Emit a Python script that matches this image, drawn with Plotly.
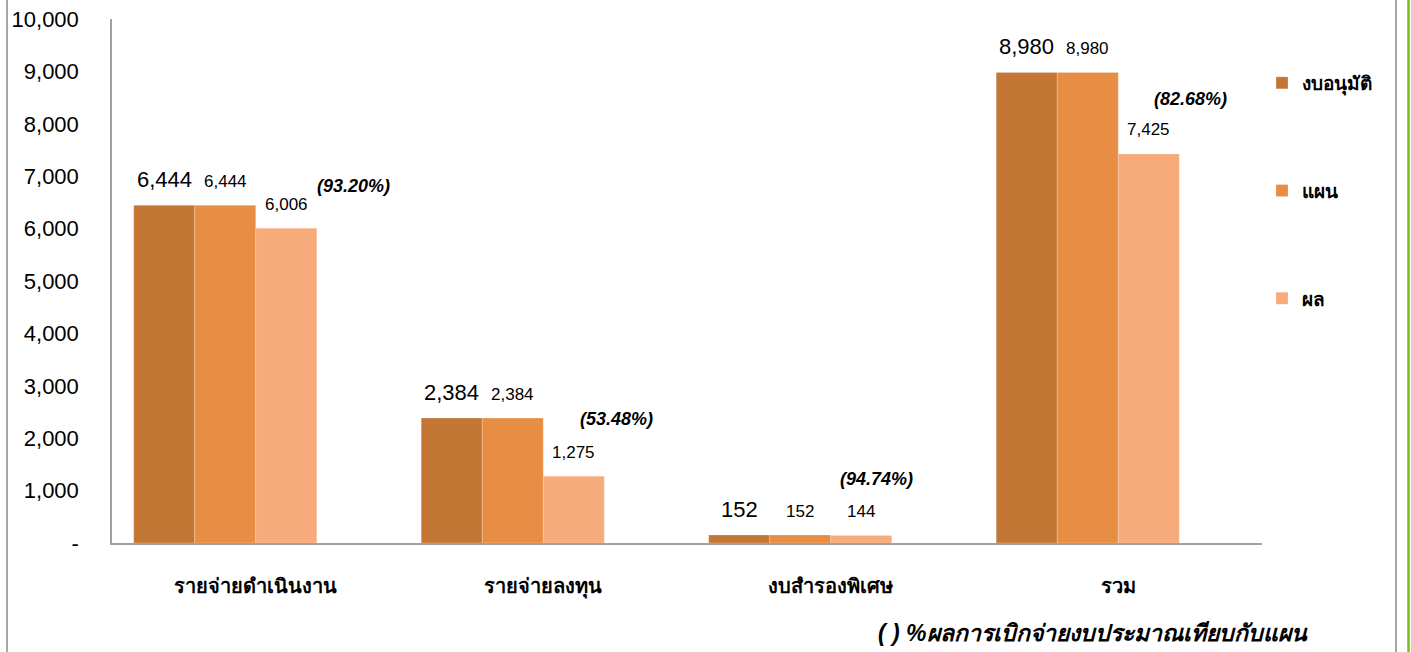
import plotly.graph_objects as go

categories = ["รายจ่ายดำเนินงาน", "รายจ่ายลงทุน", "งบสำรองพิเศษ", "รวม"]
series_names = ["งบอนุมัติ", "แผน", "ผล"]
approved = [6444, 2384, 152, 8980]
plan = [6444, 2384, 152, 8980]
actual = [6006, 1275, 144, 7425]
y_tickvals = [0, 1000, 2000, 3000, 4000, 5000, 6000, 7000, 8000, 9000, 10000]
y_ticktext = ["-", "1,000", "2,000", "3,000", "4,000", "5,000", "6,000", "7,000", "8,000", "9,000", "10,000"]
footnote = "( ) %ผลการเบิกจ่ายงบประมาณเทียบกับแผน"

# layout-only positions for the manually placed percentage labels
pct_label_y = [6810, 2360, 1230, 8470]
pct_label_xshift = [98, 73, 46, 72]

colors = ["#C47634", "#E88E44", "#F7AA7A"]
FONT = "Liberation Sans, Noto Sans, sans-serif"

fig = go.Figure()
all_series = [approved, plan, actual]
for i, (name, vals) in enumerate(zip(series_names, all_series)):
    fig.add_trace(go.Bar(
        x=categories, y=vals, name=f"<b>{name}</b>", legendgroup=name,
        marker=dict(color=colors[i], line=dict(width=0.6, color="rgba(255,255,255,0.35)")),
    ))
# hidden fourth series (percent) keeps the grouping as in the original
pct = [a / p * 100 for a, p in zip(actual, plan)]
fig.add_trace(go.Bar(x=categories, y=[None] * 4, showlegend=False, hoverinfo="skip"))

annotations = []
label_sizes = [22, 17, 17]
offsets = [-91.5, -30.5, 30.5]
for i, vals in enumerate(all_series):
    for c, v in zip(categories, vals):
        annotations.append(dict(
            x=c, y=v, xref="x", yref="y", text=f"{v:,}", showarrow=False,
            xshift=offsets[i], yshift=26 if i == 0 else 24, yanchor="middle",
            font=dict(family=FONT, size=label_sizes[i], color="#000000"),
        ))
for c, p, yv, xs in zip(categories, pct, pct_label_y, pct_label_xshift):
    annotations.append(dict(
        x=c, y=yv, xref="x", yref="y", text=f"<b><i>({p:.2f}%)</i></b>",
        showarrow=False, xshift=xs, yanchor="middle",
        font=dict(family=FONT, size=18, color="#000000"),
    ))
annotations.append(dict(
    x=(1310 - 112) / 1150, y=(543 - 633) / 524, xref="paper", yref="paper",
    xanchor="right", yanchor="middle", showarrow=False,
    text=f"<b><i>{footnote}</i></b>",
    font=dict(family=FONT, size=23, color="#000000"),
))

shapes = [
    dict(type="line", xref="paper", yref="paper", x0=(7 - 112) / 1150, x1=(7 - 112) / 1150,
         y0=-0.25, y1=1.1, line=dict(color="#A6A6A6", width=2)),
    dict(type="line", xref="paper", yref="paper", x0=(1396 - 112) / 1150, x1=(1396 - 112) / 1150,
         y0=-0.25, y1=1.1, line=dict(color="#A6A6A6", width=2)),
    dict(type="line", xref="paper", yref="paper", x0=(1408.5 - 112) / 1150, x1=(1408.5 - 112) / 1150,
         y0=-0.25, y1=1.1, line=dict(color="#76C01E", width=2.5)),
]

fig.update_layout(
    width=1411, height=652,
    margin=dict(l=112, r=149, t=19, b=109, autoexpand=False),
    paper_bgcolor="white", plot_bgcolor="white",
    barmode="group", bargap=0.151, bargroupgap=0,
    font=dict(family=FONT, color="#000000"),
    showlegend=True,
    legend=dict(
        x=(1262 - 112) / 1150, xanchor="left", y=(543 - 64) / 524, yanchor="top",
        font=dict(family=FONT, size=19, color="#000000"),
        tracegroupgap=80, bgcolor="rgba(0,0,0,0)",
    ),
    annotations=annotations,
    shapes=shapes,
)
fig.update_xaxes(
    showline=True, linecolor="#A0A0A0", linewidth=1.5, showgrid=False,
    ticks="", ticklabelstandoff=24,
    tickfont=dict(family=FONT, size=20, color="#000000"),
    tickprefix="<b>", ticksuffix="</b>",
)
fig.update_yaxes(
    range=[0, 10000], tickvals=y_tickvals, ticktext=y_ticktext,
    showline=True, linecolor="#A0A0A0", linewidth=1.5, showgrid=False, zeroline=False,
    ticks="", ticklabelstandoff=27,
    tickfont=dict(family=FONT, size=22, color="#000000"),
)

fig.write_html(
    "out.html",
    config={"displayModeBar": False},
    post_script="document.body.style.margin='0';document.body.style.overflow='hidden';",
)
